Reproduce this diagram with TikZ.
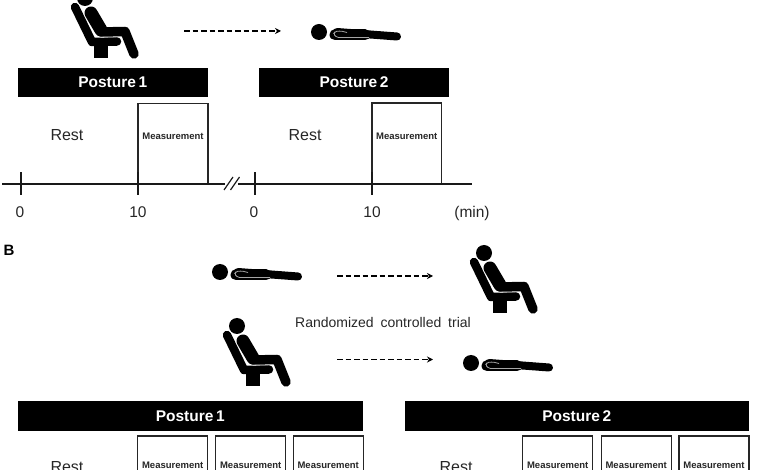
\documentclass[tikz,border=0pt]{standalone}
\usepackage{fontspec}
\setmainfont{Liberation Sans}
\usetikzlibrary{arrows.meta}
\newcommand{\pxfont}[1]{\fontsize{#1}{#1}\selectfont}
\tikzset{
  bar/.style={fill=black,text=white,inner sep=0pt,font=\pxfont{15.5}\bfseries},
  mbox/.style={draw=black!85,line width=1.2pt,fill=white,inner sep=0pt},
  mtext/.style={font=\pxfont{9.5}\bfseries,text=black!85,inner sep=0pt},
  plain/.style={font=\pxfont{16},text=black!85},
  num/.style={font=\pxfont{15.5},text=black!85},
  axis/.style={line width=1.6pt,black!90},
  tick/.style={line width=1.2pt,black!90},
  flow/.style={line width=1.1pt,dash pattern=on 5.5pt off 3pt,-{Stealth[length=6pt,width=6pt]}},
  pics/seated/.style={code={
    \fill (0,0) circle[radius=8];
    \draw[line width=8.5,line cap=round,line join=round] (-10,9) -- (7,44) -- (32,43.5);
    \fill (9,47) rectangle (23,60);
    \draw[white,line width=11,line cap=round,line join=round] (6,15) -- (17,34) -- (40,33);
    \draw[line width=13,line cap=round] (6,15) -- (16,32);
    \draw[line width=9.5,line cap=round,line join=round] (16,34) -- (40,33.5) -- (49,56);
  }},
  pics/lying/.style={code={
    \fill (0,0) circle[radius=8];
    \draw[line width=11,line cap=round] (16,3) -- (46,3);
    \draw[line width=8,line cap=round] (18,0) -- (78,4.5);
    \draw[black!35,line width=0.8pt,rounded corners=1.5] (28,0.5) -- (22,-1) -- (16,-0.5) -- (14.5,2) -- (18,5.5) -- (50,5.5);
  }}
}
\begin{document}
\begin{tikzpicture}[x=1pt,y=-1pt]
\useasboundingbox (0,0) rectangle (780,470);
\clip (0,0) rectangle (780,470);
% panel A
\pic at (85,-2) {seated};
\pic at (319,32) {lying};
\coordinate (a1) at (184,31); \coordinate (a2) at (281,31);
\draw[flow] (a1) -- (a2);
\node[bar,minimum width=190.5,minimum height=29] (p1) at (112.75,82.5) {Posture\,1};
\node[bar,minimum width=190.5,minimum height=29] (p2) at (354,82.5) {Posture\,2};
\node[mbox,minimum width=70,minimum height=80.5] (m1) at (173,144) {};
\node[mbox,minimum width=69.5,minimum height=81] (m2) at (406.75,143.5) {};
\node[mtext] at (173,136) {Measurement};
\node[mtext] at (406.75,136) {Measurement};
\node[plain] (r1) at (67,135) {Rest};
\node[plain] (r2) at (305,135) {Rest};
\coordinate (s1) at (2,184); \coordinate (e1) at (225,184);
\coordinate (s2) at (238,184); \coordinate (e2) at (472,184);
\draw[axis] (s1) -- (e1); \draw[axis] (s2) -- (e2);
\draw[tick] (224,190) -- (233,177); \draw[tick] (230.5,190) -- (239.5,177);
\foreach \x/\y/\t in {21/20/0,138/138/10,255/254/0,372/372/10} { \draw[tick] (\x,172.5) -- (\x,195); \node[num] at (\y,212) {\t}; };
\node[num] (u) at (472,213) {(min)};
% panel B
\node[font=\pxfont{15}\bfseries] (b) at (9,250) {B};
\pic at (220,272) {lying};
\pic at (484,253) {seated};
\pic at (237,326) {seated};
\pic at (471,363) {lying};
\coordinate (b1) at (337,276); \coordinate (b2) at (433,276);
\coordinate (b3) at (337,359.5); \coordinate (b4) at (433,359.5);
\draw[flow] (b1) -- (b2); \draw[flow] (b3) -- (b4);
\node[font=\pxfont{14},text=black!85] (rct) at (383,322) {Randomized\hspace{3pt} controlled\hspace{3pt} trial};
\node[bar,minimum width=345.5,minimum height=29.5] (q1) at (190.25,416) {Posture\,1};
\node[bar,minimum width=344.5,minimum height=29.5] (q2) at (576.75,416) {Posture\,2};
\foreach \x in {172.7,250.7,328.2,557.7,636.2,714} { \node[mbox,minimum width=70,minimum height=60] at (\x,466) {}; \node[mtext] at (\x,465.5) {Measurement}; };
\node[plain] (r3) at (67,467) {Rest};
\node[plain] (r4) at (456,467) {Rest};
\end{tikzpicture}
\end{document}
